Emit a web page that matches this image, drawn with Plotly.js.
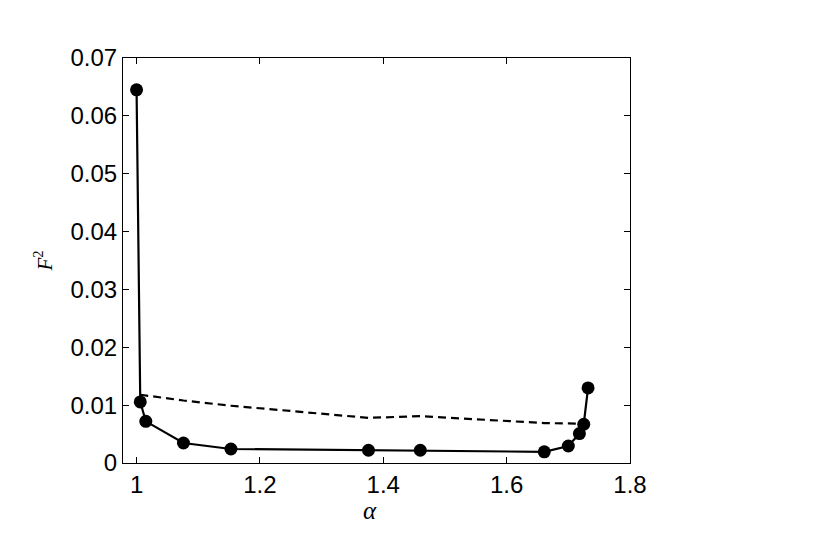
<!DOCTYPE html>
<html>
<head>
<meta charset="utf-8">
<script src="https://cdn.plot.ly/plotly-3.0.1.min.js"></script>
<style>html,body{margin:0;padding:0;background:#fff;}#chart{width:823px;height:546px;}</style>
</head>
<body>
<div id="chart"></div>
<script>
// Solid series (with markers)
var alphaSolid = [1.000, 1.006, 1.015, 1.076, 1.153, 1.376, 1.460, 1.661, 1.700, 1.718, 1.725, 1.732];
var f2Solid    = [0.0645, 0.01055, 0.0072, 0.00346, 0.00242, 0.0022, 0.0022, 0.00193, 0.00294, 0.00509, 0.0067, 0.01297];
// Dashed series
var alphaDashed = [1.006, 1.076, 1.153, 1.376, 1.460, 1.661, 1.725];
var f2Dashed    = [0.0118, 0.0108, 0.0099, 0.0078, 0.0081, 0.0069, 0.0068];
// Ticks
var xTicks = [1, 1.2, 1.4, 1.6, 1.8];
var xTickText = ["1", "1.2", "1.4", "1.6", "1.8"];
var yTicks = [0, 0.01, 0.02, 0.03, 0.04, 0.05, 0.06, 0.07];
var yTickText = ["0", "0.01", "0.02", "0.03", "0.04", "0.05", "0.06", "0.07"];
var xLabel = "<i>α</i>";
var yLabel = "<i>F</i><sup>2</sup>";

var traces = [
  {
    x: alphaDashed, y: f2Dashed, type: "scatter", mode: "lines",
    line: {color: "#000", width: 2.2, dash: "8px,5px"}, hoverinfo: "none"
  },
  {
    x: alphaSolid, y: f2Solid, type: "scatter", mode: "lines+markers",
    line: {color: "#000", width: 2.2},
    marker: {color: "#000", size: 13, symbol: "circle"}, hoverinfo: "none"
  }
];

var axisCommon = {
  showgrid: false, zeroline: false, showline: true, linecolor: "#000", linewidth: 1,
  mirror: "ticks", ticks: "inside", ticklen: 6, tickwidth: 1, tickcolor: "#000",
  tickfont: {family: "Liberation Sans, Arial, sans-serif", size: 24, color: "#000"}
};

var layout = {
  width: 823, height: 546,
  margin: {l: 123, r: 193, t: 58, b: 83},
  paper_bgcolor: "#fff", plot_bgcolor: "#fff",
  showlegend: false,
  xaxis: Object.assign({}, axisCommon, {
    range: [0.978, 1.8], tickmode: "array", tickvals: xTicks, ticktext: xTickText
  }),
  yaxis: Object.assign({}, axisCommon, {
    range: [0, 0.07], tickmode: "array", tickvals: yTicks, ticktext: yTickText,
    title: {text: yLabel, font: {family: "Liberation Serif, Times New Roman, serif", size: 21, color: "#000"}, standoff: 12}
  }),
  annotations: [
    {text: xLabel, xref: "paper", yref: "paper", x: 0.488, y: -0.118,
     xanchor: "center", yanchor: "middle", showarrow: false,
     font: {family: "Liberation Serif, Times New Roman, serif", size: 25, color: "#000"}}
  ]
};

Plotly.newPlot("chart", traces, layout, {displayModeBar: false, staticPlot: true});
</script>
</body>
</html>
